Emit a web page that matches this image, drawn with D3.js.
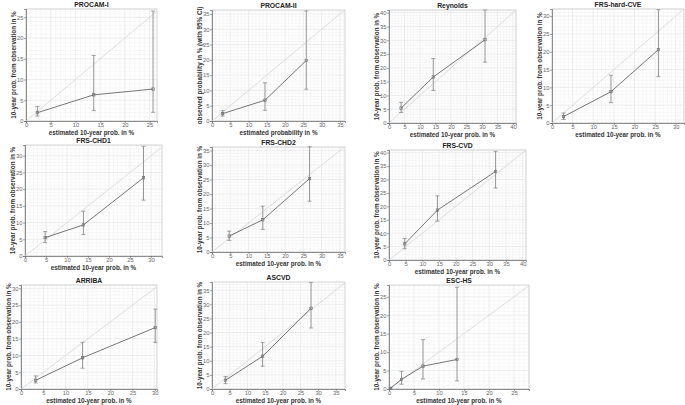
<!DOCTYPE html>
<html><head><meta charset="utf-8">
<script src="https://cdn.jsdelivr.net/npm/d3@7"></script>
<style>
html,body{margin:0;padding:0;background:#fff;}
svg{display:block;font-family:"Liberation Sans",Arial,sans-serif;}
</style></head>
<body><svg id="c" width="685" height="405"></svg>
<script>
// ---- data ----
const titles = ["PROCAM-I","PROCAM-II","Reynolds","FRS-hard-CVE","FRS-CHD1","FRS-CHD2","FRS-CVD","ARRIBA","ASCVD","ESC-HS"];
const estX = [
  [2.3,13.7,25.7],[2.9,14.5,25.8],[3.9,14.3,31.0],[2.8,14.3,25.8],
  [4.8,13.9,28.2],[4.7,13.9,26.7],[4.7,14.5,31.9],
  [3.3,13.8,30.1],[3.8,14.3,28.0],[0.3,2.5,6.8,13.6]];
const obsY = [
  [2.0,6.3,7.7],[2.4,6.8,19.8],[5.4,16.7,30.2],[1.8,8.8,20.6],
  [5.5,9.3,23.4],[5.5,11.1,25.3],[6.0,18.6,33.0],
  [2.6,9.3,18.3],[3.1,11.6,28.6],[0.2,2.6,6.2,8.0]];
const ciLow = [
  [1.2,2.5,2.1],[1.6,3.5,10.4],[3.8,11.8,22.1],[1.0,5.7,13.0],
  [4.0,6.4,16.7],[4.0,7.8,17.5],[4.2,14.5,26.8],
  [1.8,6.2,13.9],[1.9,8.1,21.6],[0.0,1.3,2.7,2.2]];
const ciHigh = [
  [3.5,15.8,26.5],[3.4,12.5,36.0],[7.5,23.4,41.0],[2.8,13.4,31.8],
  [7.3,13.4,32.8],[7.2,15.8,36.3],[8.0,23.9,40.5],
  [3.9,13.9,23.8],[4.4,16.5,37.7],[0.4,4.8,13.4,27.6]];
const xMax = [26.5,36.4,41,32,32.6,36.4,41,30.5,37.6,28];
const yMax = [27,36.3,41,32,33.2,36.2,41,31,37.9,28.2];
const xLabels = ["estimated 10-year prob. in %","estimated probability in %","estimated 10-year prob. in %","estimated 10-year prob. in %","estimated 10-year prob. in %","estimated 10-year prob. in %","estimated 10-year prob. in %","estimated 10-year prob. in %","estimated 10-year prob. in %","estimated 10-year prob. in %"];
const yLabels = ["10-year prob. from observation in %","observed probability in % (with 95% CI)","10-year prob. from observation in %","10-year prob. from observation in %","10-year prob. from observation in %","10-year prob. from observation in %","10-year prob. from observation in %","10-year prob. from observation in %","10-year prob. from observation in %","10-year prob. from observation in %"];

// ---- layout (left, top, right, bottom) ----
const boxes = [
  [26,9,157,121],[212,10,345,121],[389,10,516,123],[552,9,684,123],
  [25,145,162,256],[212,147,345,252],[389,150,526,260],
  [21,285,157,389],[212,282,345,389],[389,285,529,389]];

const svg = d3.select("#c");
titles.forEach((t,i)=>{
  const [l,tp,r,b] = boxes[i];
  const x = d3.scaleLinear().domain([0,xMax[i]]).range([l,r]);
  const y = d3.scaleLinear().domain([0,yMax[i]]).range([b,tp]);
  const g = svg.append("g");
  // minor grid
  const minX = d3.range(1,Math.floor(xMax[i])+1).filter(v=>v%5!==0);
  const minY = d3.range(1,Math.floor(yMax[i])+1).filter(v=>v%5!==0);
  g.selectAll(".mx").data(minX).join("line").attr("x1",d=>x(d)).attr("x2",d=>x(d)).attr("y1",tp).attr("y2",b).attr("stroke","#eeeeee").attr("stroke-width",0.5);
  g.selectAll(".my").data(minY).join("line").attr("y1",d=>y(d)).attr("y2",d=>y(d)).attr("x1",l).attr("x2",r).attr("stroke","#eeeeee").attr("stroke-width",0.5);
  const tx = d3.range(0,xMax[i]+0.01,5), ty = d3.range(0,yMax[i]+0.01,5);
  g.selectAll(".gx").data(tx).join("line").attr("x1",d=>x(d)).attr("x2",d=>x(d)).attr("y1",tp).attr("y2",b).attr("stroke","#e0e0e0").attr("stroke-width",0.6);
  g.selectAll(".gy").data(ty).join("line").attr("y1",d=>y(d)).attr("y2",d=>y(d)).attr("x1",l).attr("x2",r).attr("stroke","#e0e0e0").attr("stroke-width",0.6);
  // box
  g.append("rect").attr("x",l).attr("y",tp).attr("width",r-l).attr("height",b-tp).attr("fill","none").attr("stroke","#c4c4c4").attr("stroke-width",0.7);
  // axes
  const ax = d3.axisBottom(x).tickValues(tx).tickSize(2).tickFormat(d3.format("d"));
  const ay = d3.axisLeft(y).tickValues(ty).tickSize(2).tickFormat(d3.format("d"));
  const gx = g.append("g").attr("transform",`translate(0,${b})`).call(ax);
  const gy = g.append("g").attr("transform",`translate(${l},0)`).call(ay);
  [gx,gy].forEach(a=>{
    a.select(".domain").attr("stroke","#666").attr("stroke-width",0.7);
    a.selectAll(".tick line").attr("stroke","#666").attr("stroke-width",0.6);
    a.selectAll("text").attr("fill","#666").attr("font-size",5.8).attr("font-family","Liberation Sans,Arial,sans-serif");
  });
  gx.selectAll("text").attr("y",2);
  gy.selectAll("text").attr("x",-2.5);
  // diagonal
  const dm = Math.min(xMax[i],yMax[i]);
  g.append("line").attr("x1",x(0)).attr("y1",y(0)).attr("x2",x(dm)).attr("y2",y(dm)).attr("stroke","#d4d4d4").attr("stroke-width",0.8);
  // error bars
  const n = estX[i].length;
  const idx = d3.range(n);
  g.selectAll(".eb").data(idx).join("line").attr("x1",k=>x(estX[i][k])).attr("x2",k=>x(estX[i][k])).attr("y1",k=>y(ciLow[i][k])).attr("y2",k=>y(ciHigh[i][k])).attr("stroke","#8a8a8a").attr("stroke-width",0.9);
  ["lo","hi"].forEach(w=>{
    g.selectAll(".cap"+w).data(idx).join("line")
      .attr("x1",k=>x(estX[i][k])-2).attr("x2",k=>x(estX[i][k])+2)
      .attr("y1",k=>y(w==="lo"?ciLow[i][k]:ciHigh[i][k])).attr("y2",k=>y(w==="lo"?ciLow[i][k]:ciHigh[i][k]))
      .attr("stroke","#8a8a8a").attr("stroke-width",0.8);
  });
  // line
  g.append("path").datum(idx).attr("d",d3.line().x(k=>x(estX[i][k])).y(k=>y(obsY[i][k]))).attr("fill","none").attr("stroke","#666").attr("stroke-width",0.9);
  g.selectAll(".pt").data(idx).join("rect").attr("x",k=>x(estX[i][k])-1.2).attr("y",k=>y(obsY[i][k])-1.2).attr("width",2.4).attr("height",2.4).attr("fill","none").attr("stroke","#666").attr("stroke-width",0.6);
  // title
  g.append("text").attr("x",(l+r)/2).attr("y",tp-2).attr("text-anchor","middle").attr("font-size",6.8).attr("font-weight","bold").attr("fill","#222").text(t);
  // labels
  g.append("text").attr("x",(l+r)/2).attr("y",b+13.5).attr("text-anchor","middle").attr("font-size",6.3).attr("font-weight","bold").attr("fill","#333").text(xLabels[i]);
  g.append("text").attr("transform",`translate(${l-10.5},${(tp+b)/2}) rotate(-90)`).attr("text-anchor","middle").attr("font-size",6.3).attr("font-weight","bold").attr("fill","#333").text(yLabels[i]);
});
</script></body></html>
